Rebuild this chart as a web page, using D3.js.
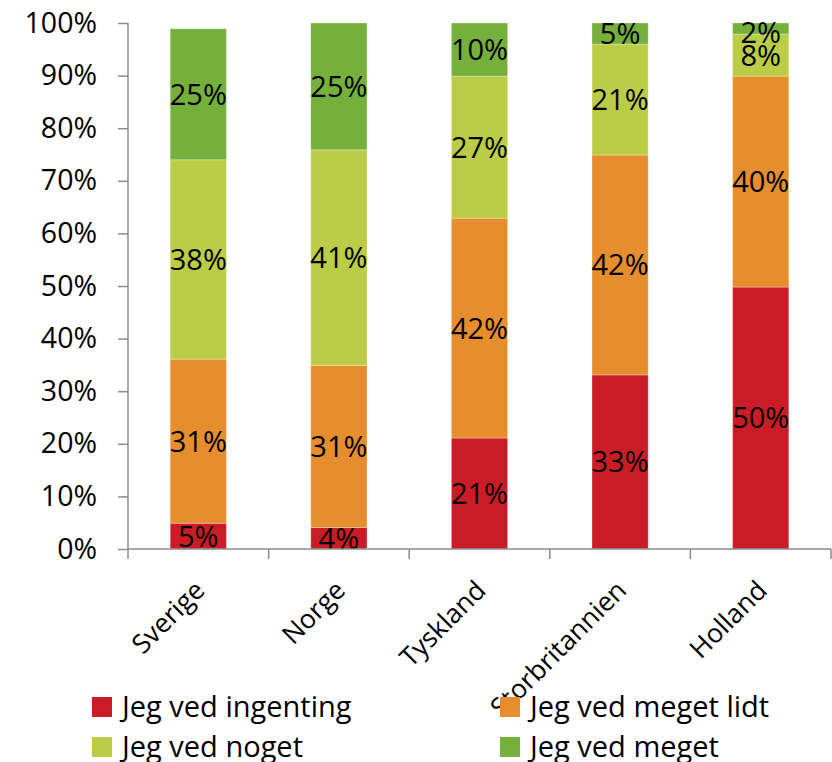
<!DOCTYPE html>
<html>
<head>
<meta charset="utf-8">
<script src="https://cdn.jsdelivr.net/npm/d3@7"></script>
<style>
  body { margin: 0; background: #fff; }
  text { font-family: "Open Sans", sans-serif; fill: #000; }
</style>
</head>
<body>
<div id="chart"></div>
<script>
var svgWidth = 832;
var svgHeight = 762;

// data (labels are rounded, so some stacks pass 100)
var countries = ["Sverige", "Norge", "Tyskland", "Storbritannien", "Holland"];
var seriesNames = ["Jeg ved ingenting", "Jeg ved meget lidt", "Jeg ved noget", "Jeg ved meget"];
var ingenting = [4.9, 4.1, 21.1, 33.1, 49.8];
var megetLidt = [31.2, 30.8, 41.8, 41.8, 40.1];
var noget = [37.9, 41.0, 27.0, 21.1, 8.0];
var meget = [24.9, 24.6, 10.1, 4.6, 2.1];
var yTicks = [0, 10, 20, 30, 40, 50, 60, 70, 80, 90, 100];
var colors = ["#ca1c26", "#e68d2e", "#bbcc46", "#74b03b"];

var margin = { top: 23, right: 1, bottom: 213, left: 128 };
var width = svgWidth - margin.left - margin.right;
var height = svgHeight - margin.top - margin.bottom;

var rows = countries.map(function(c, i) {
  return { country: c, s0: ingenting[i], s1: megetLidt[i], s2: noget[i], s3: meget[i] };
});

var svg = d3.select("#chart")
  .append("svg")
  .attr("width", svgWidth)
  .attr("height", svgHeight);

var chartGroup = svg.append("g")
  .attr("transform", `translate(${margin.left}, ${margin.top})`);

var xScale = d3.scaleBand()
  .domain(countries)
  .range([0, width])
  .paddingInner(0.6)
  .paddingOuter(0.3);

var yScale = d3.scaleLinear()
  .domain([0, 100])
  .range([height, 0]);

var stacked = d3.stack().keys(["s0", "s1", "s2", "s3"])(rows);

// bars
var layers = chartGroup.selectAll(".layer")
  .data(stacked)
  .enter()
  .append("g")
  .attr("fill", (d, i) => colors[i]);

layers.selectAll("rect")
  .data(d => d)
  .enter()
  .append("rect")
  .attr("x", d => xScale(d.data.country))
  .attr("width", xScale.bandwidth())
  .attr("y", d => yScale(Math.min(d[1], 100)))
  .attr("height", d => yScale(d[0]) - yScale(Math.min(d[1], 100)))
  .attr("stroke", "#fff")
  .attr("stroke-opacity", 0.3)
  .attr("stroke-width", 1);

// value labels, kept inside the plot at the top
layers.selectAll(".val")
  .data(d => d)
  .enter()
  .append("text")
  .attr("x", d => xScale(d.data.country) + xScale.bandwidth() / 2)
  .attr("y", function(d) {
    var mid = (yScale(d[0]) + yScale(Math.min(d[1], 100))) / 2;
    return Math.max(mid, 10);
  })
  .attr("dy", "0.36em")
  .attr("text-anchor", "middle")
  .style("font-size", "29px")
  .text(d => Math.round(d[1] - d[0]) + "%");

// y axis
var leftAxis = d3.axisLeft(yScale)
  .tickValues(yTicks)
  .tickFormat(d => d + "%")
  .tickSize(10)
  .tickPadding(21);

var yAxis = chartGroup.append("g")
  .call(leftAxis);
yAxis.select(".domain").attr("stroke", "#8c8c8c").attr("stroke-width", 1.5)
  .attr("d", `M0,0V${height}`);
yAxis.selectAll(".tick line").attr("stroke", "#8c8c8c").attr("stroke-width", 1.5);
yAxis.selectAll(".tick text")
  .attr("fill", "#000")
  .style("font-size", "28.5px")
  .style("font-family", "'Open Sans', sans-serif");

// x axis
var xAxis = chartGroup.append("g")
  .attr("transform", `translate(0, ${height})`);
xAxis.append("line")
  .attr("x1", 0).attr("x2", width)
  .attr("stroke", "#8c8c8c").attr("stroke-width", 1.5);
var boundaries = d3.range(countries.length + 1).map(i => i * xScale.step());
xAxis.selectAll(".xtick")
  .data(boundaries)
  .enter()
  .append("line")
  .attr("x1", d => d).attr("x2", d => d)
  .attr("y1", 0).attr("y2", 10)
  .attr("stroke", "#8c8c8c").attr("stroke-width", 1.5);

xAxis.selectAll(".xlabel")
  .data(countries)
  .enter()
  .append("text")
  .attr("transform", d => `translate(${xScale(d) + xScale.bandwidth() / 2 + 8}, 43) rotate(-45)`)
  .attr("text-anchor", "end")
  .style("font-size", "26.5px")
  .text(d => d);

// legend
var legendPos = [[92, 697], [500, 697], [92, 737], [500, 737]];
var legend = svg.selectAll(".legend")
  .data(seriesNames)
  .enter()
  .append("g")
  .attr("transform", (d, i) => `translate(${legendPos[i][0]}, ${legendPos[i][1]})`);

legend.append("rect")
  .attr("width", 20)
  .attr("height", 20)
  .attr("fill", (d, i) => colors[i]);

legend.append("text")
  .attr("x", 30)
  .attr("y", 10)
  .attr("dy", "0.36em")
  .style("font-size", "29px")
  .text(d => d);
</script>
</body>
</html>
